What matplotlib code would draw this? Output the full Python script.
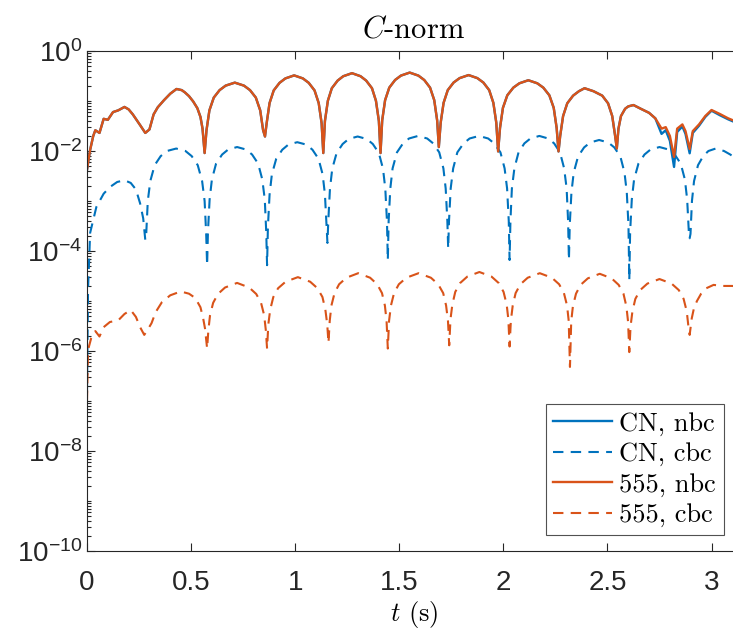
import matplotlib
matplotlib.use("Agg")
import matplotlib.pyplot as plt
from matplotlib.ticker import FixedLocator, LogLocator, NullFormatter

plt.rcParams["font.family"] = ["Liberation Sans", "DejaVu Sans"]

# --- data (t in s, C-norm) ---
# solid "nbc" curves: CN and 555 lie on top of each other up to t ~ 2.75
nbc_head_t = [0.000, 0.015, 0.030, 0.040, 0.060, 0.080, 0.100, 0.125, 0.150, 0.180,
              0.200, 0.220, 0.255, 0.280, 0.300, 0.320, 0.340, 0.370, 0.400, 0.430,
              0.455, 0.470, 0.490, 0.510, 0.530, 0.545, 0.555, 0.565,
              0.574, 0.588, 0.609, 0.637, 0.666, 0.710, 0.754, 0.783, 0.811, 0.832, 0.846, 0.855,
              0.863, 0.877, 0.897, 0.925, 0.953, 0.995, 1.037, 1.065, 1.093, 1.113, 1.127, 1.135,
              1.143, 1.157, 1.176, 1.204, 1.231, 1.273, 1.314, 1.341, 1.369, 1.388, 1.402, 1.410,
              1.418, 1.432, 1.452, 1.480, 1.508, 1.550, 1.592, 1.620, 1.648, 1.668, 1.682, 1.690,
              1.699, 1.713, 1.733, 1.761, 1.790, 1.833, 1.875, 1.904, 1.932, 1.952, 1.966, 1.975,
              1.984, 1.998, 2.019, 2.048, 2.077, 2.120, 2.163, 2.192, 2.221, 2.242, 2.256, 2.265,
              2.273, 2.287, 2.307, 2.335, 2.363, 2.390, 2.433, 2.475, 2.503, 2.523, 2.537, 2.545,
              2.553, 2.565, 2.585, 2.600, 2.625, 2.660, 2.700, 2.730]
nbc_head = [4.2e-3, 1.05e-2, 2.0e-2, 2.6e-2, 2.3e-2, 4.4e-2, 4.2e-2, 6.0e-2, 6.5e-2, 7.6e-2,
            6.8e-2, 5.4e-2, 3.3e-2, 2.3e-2, 2.7e-2, 5.4e-2, 7.5e-2, 0.104, 0.14, 0.174,
            0.165, 0.149, 0.125, 0.098, 0.072, 0.048, 0.028, 9.1e-3,
            0.026, 0.065, 0.117, 0.165, 0.203, 0.233, 0.203, 0.165, 0.117, 0.065, 0.026, 0.0195,
            0.036, 0.091, 0.163, 0.231, 0.283, 0.325, 0.283, 0.231, 0.163, 0.091, 0.036, 9.1e-3,
            0.040, 0.101, 0.18, 0.256, 0.313, 0.36, 0.313, 0.256, 0.18, 0.101, 0.040, 9.1e-3,
            0.041, 0.104, 0.185, 0.263, 0.322, 0.37, 0.322, 0.263, 0.185, 0.104, 0.041, 0.012,
            0.037, 0.092, 0.165, 0.234, 0.287, 0.33, 0.287, 0.234, 0.165, 0.092, 0.037, 9.8e-3,
            0.029, 0.073, 0.13, 0.185, 0.226, 0.26, 0.226, 0.185, 0.13, 0.073, 0.029, 9.8e-3,
            0.020, 0.05, 0.09, 0.128, 0.157, 0.18, 0.157, 0.128, 0.09, 0.05, 0.020, 0.0112,
            0.028, 0.05, 0.07, 0.078, 0.083, 0.07, 0.058, 0.045]

nbc_tail_t = [2.760, 2.780, 2.800, 2.820, 2.835, 2.860, 2.875, 2.895, 2.910, 2.940,
              2.970, 3.000, 3.040, 3.080, 3.110, 3.142]
tail_555 = [0.028, 0.030, 0.020, 7.6e-3, 0.028, 0.034, 0.025, 0.011, 0.025, 0.034,
            0.050, 0.066, 0.055, 0.045, 0.040, 0.036]
tail_cn = [0.022, 0.026, 0.016, 4.8e-3, 0.024, 0.031, 0.022, 9.0e-3, 0.023, 0.032,
           0.048, 0.064, 0.052, 0.043, 0.038, 0.034]

nbc_t = nbc_head_t + nbc_tail_t
nbc_555 = nbc_head + tail_555
nbc_cn = nbc_head + tail_cn

# dashed "cbc" curves
cbc_cn_t = [0.000, 0.005, 0.015, 0.045, 0.080, 0.110, 0.145, 0.180, 0.210, 0.235, 0.255, 0.270, 0.280,
            0.2845, 0.292, 0.304, 0.325, 0.354, 0.384, 0.4285, 0.473, 0.503, 0.532, 0.553, 0.565, 0.5725, 0.577,
            0.581, 0.589, 0.600, 0.620, 0.649, 0.678, 0.721, 0.764, 0.793, 0.822, 0.842, 0.854, 0.861, 0.865,
            0.869, 0.877, 0.888, 0.909, 0.938, 0.967, 1.010, 1.054, 1.083, 1.112, 1.132, 1.143, 1.151, 1.155,
            1.159, 1.167, 1.178, 1.199, 1.228, 1.257, 1.300, 1.344, 1.373, 1.402, 1.422, 1.433, 1.441, 1.445,
            1.449, 1.457, 1.468, 1.489, 1.518, 1.547, 1.590, 1.634, 1.663, 1.692, 1.712, 1.723, 1.731, 1.735,
            1.739, 1.747, 1.759, 1.779, 1.809, 1.838, 1.883, 1.927, 1.956, 1.986, 2.006, 2.018, 2.026, 2.030,
            2.034, 2.041, 2.053, 2.073, 2.101, 2.130, 2.173, 2.215, 2.244, 2.272, 2.292, 2.304, 2.311, 2.315,
            2.319, 2.327, 2.338, 2.359, 2.388, 2.417, 2.460, 2.504, 2.533, 2.562, 2.582, 2.593, 2.601, 2.605,
            2.609, 2.617, 2.628, 2.649, 2.678, 2.707, 2.750, 2.794, 2.823, 2.852, 2.872, 2.883, 2.891, 2.895,
            2.899, 2.906, 2.916, 2.935, 2.960, 2.985, 3.020, 3.060, 3.090, 3.142]
cbc_cn = [1.45e-7, 1.7e-5, 2.3e-4, 7.6e-4, 1.4e-3, 1.9e-3, 2.4e-3, 2.6e-3, 2.3e-3, 1.7e-3, 9.0e-4, 4.5e-4, 1.66e-4,
          2.2e-4, 1.0e-3, 2.5e-3, 5.2e-3, 7.9e-3, 1.0e-2, 1.12e-2, 1.0e-2, 7.9e-3, 5.2e-3, 2.5e-3, 1.0e-3, 2.2e-4, 5.2e-5,
          2.4e-4, 1.07e-3, 2.7e-3, 5.6e-3, 8.5e-3, 1.07e-2, 1.2e-2, 1.07e-2, 8.5e-3, 5.6e-3, 2.7e-3, 1.07e-3, 2.4e-4, 5.2e-5,
          3.0e-4, 1.34e-3, 3.4e-3, 7.0e-3, 1.06e-2, 1.34e-2, 1.5e-2, 1.34e-2, 1.06e-2, 7.0e-3, 3.4e-3, 1.34e-3, 3.0e-4, 1.45e-4,
          3.9e-4, 1.74e-3, 4.4e-3, 9.1e-3, 1.38e-2, 1.74e-2, 1.95e-2, 1.74e-2, 1.38e-2, 9.1e-3, 4.4e-3, 1.74e-3, 3.9e-4, 6.6e-5,
          4.0e-4, 1.78e-3, 4.5e-3, 9.4e-3, 1.42e-2, 1.78e-2, 2.0e-2, 1.78e-2, 1.42e-2, 9.4e-3, 4.5e-3, 1.78e-3, 4.0e-4, 1.12e-4,
          4.0e-4, 1.78e-3, 4.5e-3, 9.4e-3, 1.42e-2, 1.78e-2, 2.0e-2, 1.78e-2, 1.42e-2, 9.4e-3, 4.5e-3, 1.78e-3, 4.0e-4, 6.6e-5,
          4.0e-4, 1.78e-3, 4.5e-3, 9.4e-3, 1.42e-2, 1.78e-2, 2.0e-2, 1.78e-2, 1.42e-2, 9.4e-3, 4.5e-3, 1.78e-3, 4.0e-4, 6.6e-5,
          3.3e-4, 1.48e-3, 3.7e-3, 7.8e-3, 1.18e-2, 1.48e-2, 1.66e-2, 1.48e-2, 1.18e-2, 7.8e-3, 3.7e-3, 1.48e-3, 3.3e-4, 2.6e-5,
          2.4e-4, 1.07e-3, 2.7e-3, 5.6e-3, 8.5e-3, 1.07e-2, 1.2e-2, 1.07e-2, 8.5e-3, 5.6e-3, 2.7e-3, 1.07e-3, 2.4e-4, 1.8e-4,
          2.2e-4, 1.0e-3, 2.5e-3, 5.2e-3, 7.9e-3, 1.0e-2, 1.12e-2, 1.0e-2, 8.5e-3, 6.0e-3]

cbc_555_t = [0.000, 0.005, 0.020, 0.040, 0.060, 0.080, 0.110, 0.150, 0.180, 0.210, 0.235, 0.255, 0.275,
             0.290, 0.310, 0.330, 0.360, 0.400, 0.450, 0.490, 0.520, 0.545, 0.558, 0.567, 0.577,
             0.583, 0.591, 0.606, 0.629, 0.663, 0.721, 0.779, 0.813, 0.836, 0.851, 0.859, 0.865,
             0.871, 0.880, 0.895, 0.918, 0.954, 1.013, 1.072, 1.107, 1.131, 1.145, 1.154, 1.160,
             1.166, 1.174, 1.189, 1.211, 1.246, 1.303, 1.360, 1.394, 1.417, 1.431, 1.439, 1.445,
             1.451, 1.460, 1.475, 1.498, 1.534, 1.593, 1.652, 1.687, 1.711, 1.725, 1.734, 1.740,
             1.746, 1.755, 1.769, 1.792, 1.827, 1.885, 1.943, 1.978, 2.001, 2.016, 2.024, 2.030,
             2.036, 2.045, 2.059, 2.082, 2.117, 2.175, 2.233, 2.268, 2.291, 2.306, 2.314, 2.320,
             2.326, 2.334, 2.349, 2.371, 2.406, 2.463, 2.520, 2.554, 2.577, 2.591, 2.599, 2.605,
             2.611, 2.620, 2.634, 2.657, 2.692, 2.750, 2.808, 2.843, 2.866, 2.881, 2.889, 2.895,
             2.905, 2.915, 2.930, 2.950, 2.975, 3.010, 3.050, 3.100, 3.142]
cbc_555 = [1.0e-7, 1.05e-6, 1.8e-6, 2.5e-6, 1.95e-6, 3.0e-6, 3.8e-6, 4.1e-6, 5.5e-6, 6.6e-6, 4.8e-6, 3.0e-6, 2.1e-6,
           2.6e-6, 3.6e-6, 6.0e-6, 9.5e-6, 1.3e-5, 1.55e-5, 1.4e-5, 1.15e-5, 7.5e-6, 4.5e-6, 2.8e-6, 1.12e-6,
           2.6e-6, 5.2e-6, 9.2e-6, 1.38e-5, 1.86e-5, 2.3e-5, 1.86e-5, 1.38e-5, 9.2e-6, 5.2e-6, 2.6e-6, 1.12e-6,
           3.4e-6, 6.7e-6, 1.2e-5, 1.8e-5, 2.43e-5, 3.0e-5, 2.43e-5, 1.8e-5, 1.2e-5, 6.7e-6, 3.4e-6, 1.45e-6,
           4.0e-6, 8.1e-6, 1.44e-5, 2.16e-5, 2.92e-5, 3.6e-5, 2.92e-5, 2.16e-5, 1.44e-5, 8.1e-6, 4.0e-6, 1.12e-6,
           4.0e-6, 8.1e-6, 1.44e-5, 2.16e-5, 2.92e-5, 3.6e-5, 2.92e-5, 2.16e-5, 1.44e-5, 8.1e-6, 4.0e-6, 1.3e-6,
           4.3e-6, 8.5e-6, 1.52e-5, 2.28e-5, 3.08e-5, 3.8e-5, 3.08e-5, 2.28e-5, 1.52e-5, 8.5e-6, 4.3e-6, 1.23e-6,
           4.0e-6, 8.1e-6, 1.44e-5, 2.16e-5, 2.92e-5, 3.6e-5, 2.92e-5, 2.16e-5, 1.44e-5, 8.1e-6, 4.0e-6, 4.8e-7,
           3.9e-6, 7.8e-6, 1.4e-5, 2.1e-5, 2.84e-5, 3.5e-5, 2.84e-5, 2.1e-5, 1.4e-5, 7.8e-6, 3.9e-6, 9.5e-7,
           3.1e-6, 6.2e-6, 1.1e-5, 1.65e-5, 2.23e-5, 2.75e-5, 2.23e-5, 1.65e-5, 1.1e-5, 6.2e-6, 3.1e-6, 2.1e-6,
           4.5e-6, 7.0e-6, 1.0e-5, 1.4e-5, 1.8e-5, 2.1e-5, 2.0e-5, 2.0e-5, 1.9e-5]

x_ticks = [0, 0.5, 1, 1.5, 2, 2.5, 3]
y_ticks = [1e-10, 1e-8, 1e-6, 1e-4, 1e-2, 1e0]

blue = "#0072BD"
orange = "#D95319"
axis_gray = "#262626"

# --- Plot ---
fig = plt.figure(figsize=(7.33, 6.35), dpi=100)
# axes box runs a little past the right edge of the image, as in the reference
ax = fig.add_axes([87 / 733, 1 - 551 / 635, 654 / 733, 500 / 635])

ax.plot(nbc_t, nbc_cn, color=blue, lw=1.7, label="CN, nbc")
ax.plot(cbc_cn_t, cbc_cn, color=blue, lw=1.5, ls=(0, (5, 3.5)), label="CN, cbc")
ax.plot(nbc_t, nbc_555, color=orange, lw=1.7, label="555, nbc")
ax.plot(cbc_555_t, cbc_555, color=orange, lw=1.5, ls=(0, (5, 3.5)), label="555, cbc")

ax.set_yscale("log")
ax.set_xlim(0, 3.1416)
ax.set_ylim(1e-10, 1e0)
ax.xaxis.set_major_locator(FixedLocator(x_ticks))
ax.set_xticklabels([f"{v:g}" for v in x_ticks])
ax.yaxis.set_major_locator(FixedLocator(y_ticks))
ax.yaxis.set_minor_locator(LogLocator(base=10, subs=range(1, 10), numticks=30))
ax.yaxis.set_minor_formatter(NullFormatter())

ax.tick_params(which="both", direction="in", top=True, right=True,
               colors=axis_gray, labelsize=20, width=0.8)
ax.tick_params(which="major", length=6)
ax.tick_params(which="minor", length=3)
ax.tick_params(axis="x", pad=14)
for s in ax.spines.values():
    s.set_color(axis_gray)
    s.set_linewidth(0.8)

ax.set_title(r"$C$-norm", fontsize=22, family="cmr10", math_fontfamily="cm",
             color="black", pad=10)
ax.set_xlabel(r"$t$ (s)", fontsize=19, family="cmr10", math_fontfamily="cm",
              labelpad=2)

leg = ax.legend(loc="lower right", bbox_to_anchor=((724 - 87) / 654, 16 / 500),
                bbox_transform=ax.transAxes, borderaxespad=0,
                prop={"family": "cmr10", "size": 19}, frameon=True, fancybox=False,
                handlelength=2.2, handletextpad=0.3, labelspacing=0.25,
                borderpad=0.3)
leg.get_frame().set_edgecolor(axis_gray)
leg.get_frame().set_linewidth(0.8)

fig.savefig("out.png", dpi=100)
plt.close()
